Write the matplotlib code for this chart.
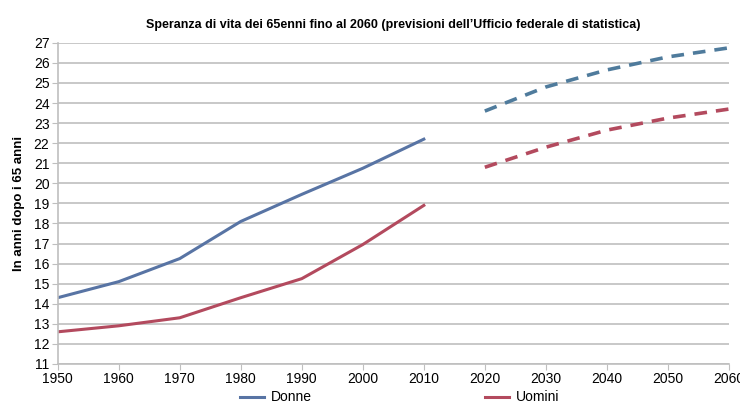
import matplotlib.pyplot as plt

plt.rcParams['font.family'] = ['Liberation Sans Narrow', 'Liberation Sans', 'DejaVu Sans']

# Observed values
years = [1950, 1960, 1970, 1980, 1990, 2000, 2010]
donne = [14.3, 15.1, 16.25, 18.1, 19.45, 20.75, 22.2]
uomini = [12.6, 12.9, 13.3, 14.3, 15.25, 16.95, 18.9]

# Projections (Ufficio federale di statistica)
proj_years = [2020, 2025, 2030, 2040, 2050, 2060]
donne_proj = [23.6, 24.2, 24.8, 25.65, 26.3, 26.75]
uomini_proj = [20.8, 21.3, 21.8, 22.65, 23.25, 23.7]

col_d = '#5874A4'
col_d2 = '#4F7B9C'
col_u = '#B34A5E'

fig, ax = plt.subplots(figsize=(7.4, 4.08), dpi=100)
fig.subplots_adjust(left=0.078, right=0.985, top=0.895, bottom=0.108)

ax.plot(years, donne, color=col_d, lw=2.2, label='Donne')
ax.plot(years, uomini, color=col_u, lw=2.2, label='Uomini')
ax.plot(proj_years, donne_proj, color=col_d2, lw=2.6, ls=(0, (3.5, 2.5)))
ax.plot(proj_years, uomini_proj, color=col_u, lw=2.6, ls=(0, (3.5, 2.5)))

ax.set_xlim(1950, 2060)
ax.set_ylim(11, 27)
ax.set_xticks(range(1950, 2061, 10))
ax.set_yticks(range(11, 28))
ax.grid(axis='y', color='#BFBFBF', lw=1.2)
ax.set_axisbelow(True)
for s in ['top', 'right']:
    ax.spines[s].set_visible(False)
for s in ['left', 'bottom']:
    ax.spines[s].set_color('#BFBFBF')
    ax.spines[s].set_linewidth(1.2)
ax.tick_params(axis='both', length=4, color='#BFBFBF', labelsize=10, pad=2)

ax.set_title("Speranza di vita dei 65enni fino al 2060 (previsioni dell\u2019Ufficio federale di statistica)",
             fontsize=9, fontweight='bold', pad=11)
ax.set_ylabel('In anni dopo i 65 anni', fontsize=9.5, fontweight='bold', labelpad=6)

fig.legend(loc='lower center', ncol=2, frameon=False, fontsize=10,
           bbox_to_anchor=(0.54, -0.022), columnspacing=12.5, handlelength=1.7,
           handletextpad=0.5)

fig.savefig('out.png', dpi=100)
